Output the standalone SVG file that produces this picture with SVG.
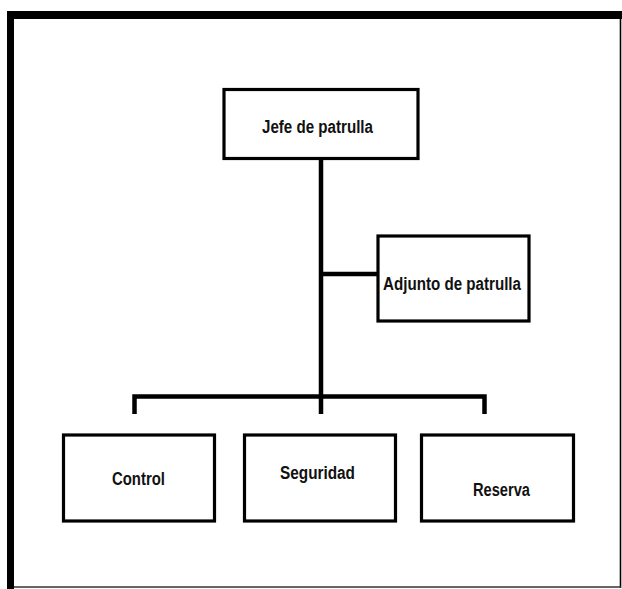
<svg xmlns="http://www.w3.org/2000/svg" width="622" height="589" viewBox="0 0 622 589">
<style>
.box{fill:#fff;stroke:#000;stroke-width:3.2}
.lbl{font-family:"Liberation Sans",Arial,sans-serif;font-weight:bold;font-size:17.5px;fill:#111}
.con{fill:none;stroke:#000;stroke-width:4.5}
</style>
<rect x="0" y="0" width="622" height="589" fill="#fff"/>
<g id="frame">
<rect x="7" y="11" width="615" height="8" fill="#000"/>
<rect x="7" y="11" width="7" height="578" fill="#000"/>
<line x1="620.5" y1="19" x2="620.5" y2="588" stroke="#000" stroke-width="1.6"/>
<line x1="14" y1="587" x2="621" y2="587" stroke="#333" stroke-width="1.6"/>
</g>
<g id="connectors">
<line class="con" x1="321" y1="158" x2="321" y2="414"/>
<line class="con" x1="321" y1="274" x2="378" y2="274"/>
<path class="con" d="M134.5,414 V396.5 H484.5 V414" stroke-width="5.5"/>
</g>
<g id="jefe">
<rect class="box" x="224" y="89.5" width="194" height="69"/>
<text class="lbl" x="262" y="133" textLength="111" lengthAdjust="spacingAndGlyphs">Jefe de patrulla</text>
</g>
<g id="adjunto">
<rect class="box" x="378" y="236" width="151" height="85"/>
<text class="lbl" x="383" y="289.5" textLength="138" lengthAdjust="spacingAndGlyphs">Adjunto de patrulla</text>
</g>
<g id="control">
<rect class="box" x="63.5" y="435" width="151" height="86"/>
<text class="lbl" x="112" y="484.5" textLength="53" lengthAdjust="spacingAndGlyphs">Control</text>
</g>
<g id="seguridad">
<rect class="box" x="244.5" y="435" width="151" height="86"/>
<text class="lbl" x="280" y="479" textLength="75" lengthAdjust="spacingAndGlyphs">Seguridad</text>
</g>
<g id="reserva">
<rect class="box" x="421.5" y="435" width="152" height="86"/>
<text class="lbl" x="473" y="496" textLength="57" lengthAdjust="spacingAndGlyphs">Reserva</text>
</g>
</svg>
